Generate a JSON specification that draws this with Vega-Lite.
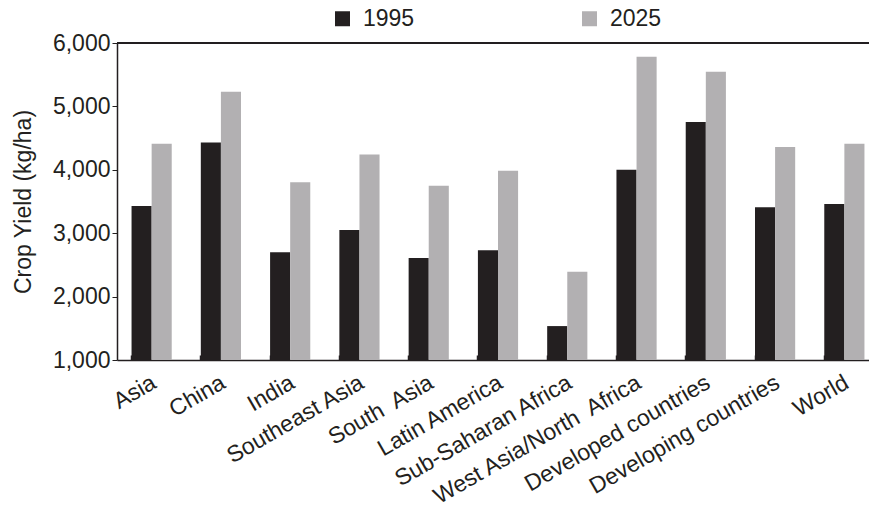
{
  "$schema": "https://vega.github.io/schema/vega-lite/v6.json",
  "width": 752,
  "height": 317,
  "autosize": {"type": "none"},
  "padding": {"left": 117, "top": 43, "right": 0, "bottom": 152},
  "background": "white",
  "config": {
    "font": "Liberation Sans",
    "view": {"stroke": null},
    "axis": {
      "labelFont": "Liberation Sans",
      "titleFont": "Liberation Sans",
      "labelColor": "#231f20",
      "titleColor": "#231f20",
      "domainColor": "#231f20",
      "tickColor": "#231f20",
      "domainWidth": 1.5,
      "grid": false
    }
  },
  "data": {
    "values": [
      {"region": "Asia", "year": "1995", "yield": 3430},
      {"region": "Asia", "year": "2025", "yield": 4410},
      {"region": "China", "year": "1995", "yield": 4430},
      {"region": "China", "year": "2025", "yield": 5230},
      {"region": "India", "year": "1995", "yield": 2700},
      {"region": "India", "year": "2025", "yield": 3805},
      {"region": "Southeast Asia", "year": "1995", "yield": 3050},
      {"region": "Southeast Asia", "year": "2025", "yield": 4240},
      {"region": "South\u00a0 Asia", "year": "1995", "yield": 2610},
      {"region": "South\u00a0 Asia", "year": "2025", "yield": 3750},
      {"region": "Latin America", "year": "1995", "yield": 2730},
      {"region": "Latin America", "year": "2025", "yield": 3985},
      {"region": "Sub-Saharan Africa", "year": "1995", "yield": 1535},
      {"region": "Sub-Saharan Africa", "year": "2025", "yield": 2390},
      {"region": "West Asia/North\u00a0 Africa", "year": "1995", "yield": 4000},
      {"region": "West Asia/North\u00a0 Africa", "year": "2025", "yield": 5785},
      {"region": "Developed countries", "year": "1995", "yield": 4755},
      {"region": "Developed countries", "year": "2025", "yield": 5545},
      {"region": "Developing countries", "year": "1995", "yield": 3410},
      {"region": "Developing countries", "year": "2025", "yield": 4360},
      {"region": "World", "year": "1995", "yield": 3460},
      {"region": "World", "year": "2025", "yield": 4410}
    ]
  },
  "layer": [
    {
      "mark": {"type": "bar"},
      "encoding": {
        "x": {
          "field": "region",
          "type": "nominal",
          "sort": null,
          "scale": {"range": [0, 762], "paddingInner": 0.42, "paddingOuter": 0.21},
          "axis": {
            "title": null,
            "labelAngle": -30,
            "labelAlign": "right",
            "labelBaseline": "top",
            "labelFontSize": 23,
            "labelPadding": 16,
            "labelOffset": -3,
            "labelLimit": 400,
            "tickSize": -5,
            "tickWidth": 1.5,
            "bandPosition": 0
          }
        },
        "xOffset": {"field": "year", "type": "nominal", "scale": {"paddingInner": 0, "paddingOuter": 0}},
        "y": {
          "field": "yield",
          "type": "quantitative",
          "scale": {"domain": [1000, 6000], "zero": false, "nice": false},
          "axis": {
            "title": "Crop Yield (kg/ha)",
            "titleFontSize": 23,
            "titleFontWeight": "normal",
            "titlePadding": 17,
            "values": [1000, 2000, 3000, 4000, 5000, 6000],
            "format": ",.0f",
            "labelFontSize": 23,
            "labelPadding": 2,
            "tickSize": 5,
            "tickWidth": 1
          }
        },
        "y2": {"datum": 1000},
        "color": {
          "field": "year",
          "type": "nominal",
          "scale": {"domain": ["1995", "2025"], "range": ["#231f20", "#b2b0b2"]},
          "legend": {
            "title": null,
            "orient": "none",
            "direction": "horizontal",
            "legendX": 214,
            "legendY": -36,
            "padding": 0,
            "symbolType": "square",
            "symbolSize": 225,
            "symbolStrokeWidth": 0,
            "symbolOpacity": 1,
            "labelFontSize": 23,
            "labelColor": "#231f20",
            "labelOffset": 9,
            "columnPadding": 163
          }
        }
      }
    },
    {
      "mark": {"type": "rule", "color": "#231f20", "strokeWidth": 1.5},
      "encoding": {"y": {"datum": 6000}}
    }
  ]
}
